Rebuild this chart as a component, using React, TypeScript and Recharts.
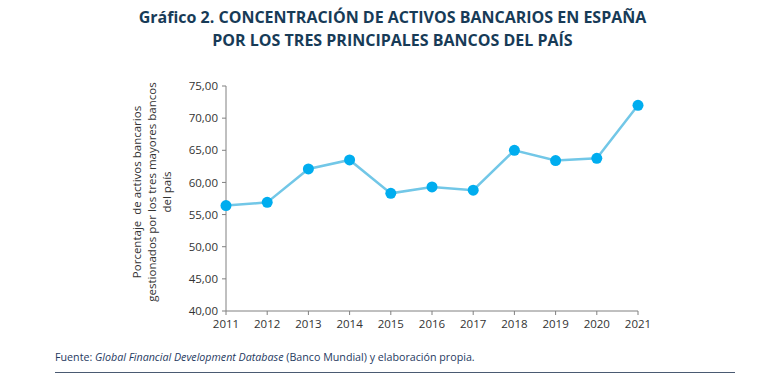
import { LineChart, Line, XAxis, YAxis } from "recharts";

const years = ["2011", "2012", "2013", "2014", "2015", "2016", "2017", "2018", "2019", "2020", "2021"];
const concentration = [56.4, 56.9, 62.1, 63.5, 58.3, 59.3, 58.8, 65.0, 63.4, 63.75, 72.0];
const yTicks = [40, 45, 50, 55, 60, 65, 70, 75];

const data = years.map((year, i) => ({ year, value: concentration[i] }));

const fmt = (v: number) => v.toFixed(2).replace(".", ",");

const font = "'Open Sans', 'Noto Sans', sans-serif";

export default function App() {
  return (
    <div
      style={{
        position: "absolute",
        left: 0,
        top: 0,
        width: 767,
        height: 392,
        background: "#fff",
        fontFamily: font,
      }}
    >
      <div
        style={{
          position: "absolute",
          top: 6,
          left: 0,
          width: 767,
          textAlign: "center",
          color: "#173b57",
          fontWeight: 700,
          fontSize: 16,
          lineHeight: "23px",
          paddingLeft: 18,
          boxSizing: "border-box",
        }}
      >
        <div>Gráfico 2. CONCENTRACIÓN DE ACTIVOS BANCARIOS EN ESPAÑA</div>
        <div>POR LOS TRES PRINCIPALES BANCOS DEL PAÍS</div>
      </div>

      <div
        style={{
          position: "absolute",
          left: 151,
          top: 192,
          transform: "translate(-50%, -50%) rotate(-90deg)",
          textAlign: "center",
          fontSize: 11.5,
          lineHeight: "15px",
          color: "#333",
          whiteSpace: "nowrap",
        }}
      >
        <div>Porcentaje&nbsp; de activos bancarios</div>
        <div>gestionados por los tres mayores bancos</div>
        <div>del país</div>
      </div>

      <div style={{ position: "absolute", left: 0, top: 0 }}>
        <LineChart
          width={767}
          height={392}
          data={data}
          margin={{ top: 86, right: 129, bottom: 51, left: 166 }}
        >
          <XAxis
            dataKey="year"
            height={30}
            tick={{ fill: "#333", fontSize: 11.5, fontFamily: font }}
            axisLine={{ stroke: "#808080" }}
            tickLine={{ stroke: "#808080" }}
            tickSize={4}
            tickMargin={5}
            interval={0}
          />
          <YAxis
            width={60}
            domain={[40, 75]}
            ticks={yTicks}
            tickFormatter={fmt}
            tick={{ fill: "#333", fontSize: 11.5, fontFamily: font }}
            axisLine={{ stroke: "#808080" }}
            tickLine={{ stroke: "#808080" }}
            tickSize={4}
            tickMargin={4}
            allowDataOverflow
          />
          <Line
            dataKey="value"
            stroke="#72c7e7"
            strokeWidth={2.5}
            dot={{ r: 5.5, fill: "#00adef", stroke: "#00adef", strokeWidth: 0 }}
            isAnimationActive={false}
          />
        </LineChart>
      </div>

      <div
        style={{
          position: "absolute",
          left: 55,
          top: 350,
          fontSize: 10.7,
          color: "#1f3a5f",
          whiteSpace: "nowrap",
        }}
      >
        Fuente: <i>Global Financial Development Database</i> (Banco Mundial) y elaboración propia.
      </div>
      <div
        style={{
          position: "absolute",
          left: 55,
          top: 372,
          width: 680,
          height: 1,
          background: "#4a5a72",
        }}
      />
    </div>
  );
}
